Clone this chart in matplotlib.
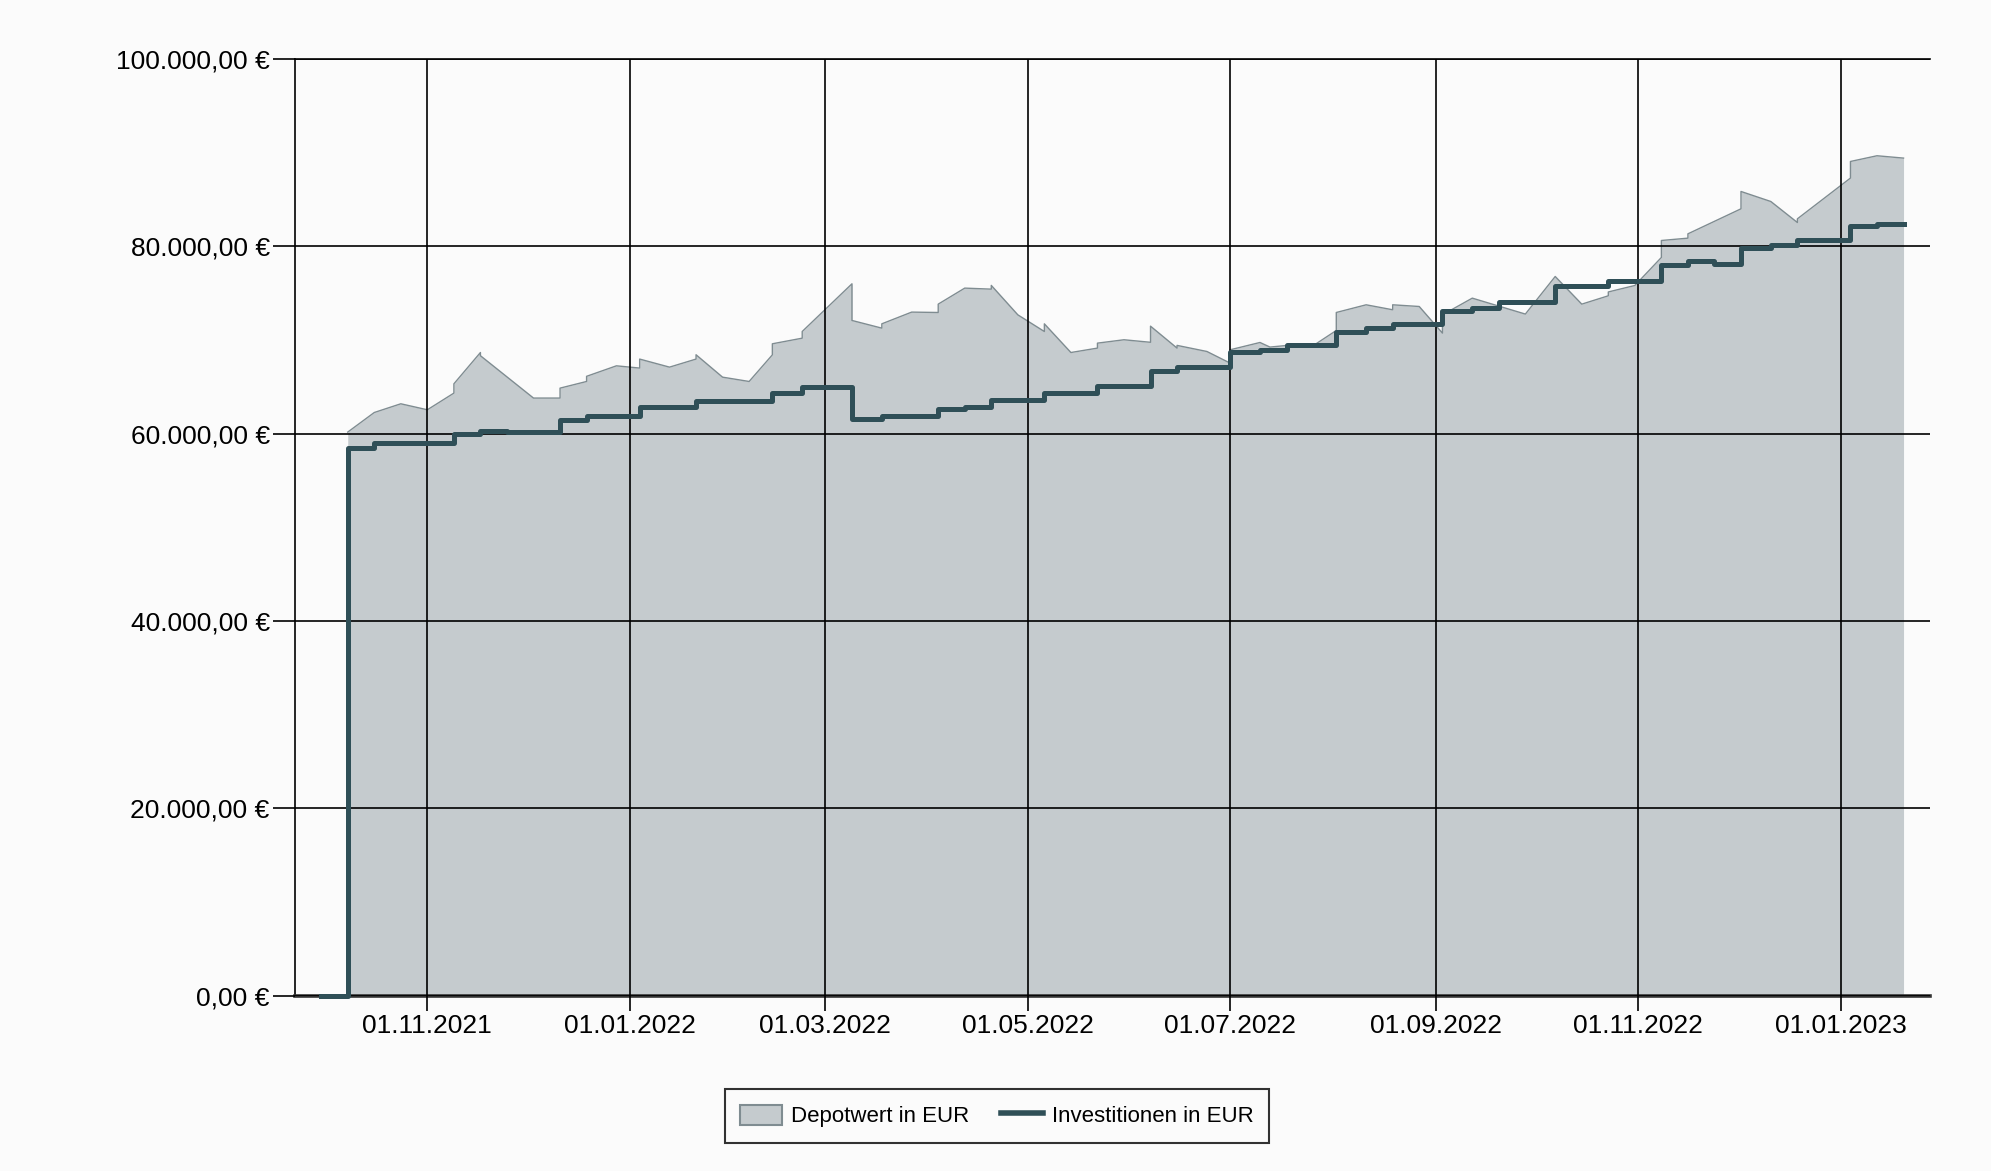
import matplotlib
matplotlib.use('Agg')
import matplotlib.pyplot as plt
import matplotlib.dates as mdates
from matplotlib.patches import Patch
from matplotlib.lines import Line2D
import pandas as pd

# Depotwert (portfolio value), repeated dates mark jumps on the same day
depot_dates = [
    '2021-10-08', '2021-10-16', '2021-10-24', '2021-11-01', '2021-11-09', '2021-11-09',
    '2021-11-17', '2021-11-17', '2021-12-03', '2021-12-11', '2021-12-11', '2021-12-19',
    '2021-12-19', '2021-12-28', '2022-01-04', '2022-01-04', '2022-01-13', '2022-01-21',
    '2022-01-21', '2022-01-29', '2022-02-06', '2022-02-13', '2022-02-13', '2022-02-22',
    '2022-02-22', '2022-03-09', '2022-03-09', '2022-03-18', '2022-03-18', '2022-03-27',
    '2022-04-04', '2022-04-04', '2022-04-12', '2022-04-20', '2022-04-20', '2022-04-28',
    '2022-05-06', '2022-05-06', '2022-05-14', '2022-05-22', '2022-05-22', '2022-05-30',
    '2022-06-07', '2022-06-07', '2022-06-15', '2022-06-15', '2022-06-24', '2022-07-01',
    '2022-07-01', '2022-07-10', '2022-07-13', '2022-07-18', '2022-07-26', '2022-08-02',
    '2022-08-02', '2022-08-11', '2022-08-19', '2022-08-19', '2022-08-27', '2022-09-03',
    '2022-09-03', '2022-09-12', '2022-09-28', '2022-10-07', '2022-10-15', '2022-10-23',
    '2022-10-23', '2022-10-31', '2022-11-08', '2022-11-08', '2022-11-16', '2022-11-16',
    '2022-12-02', '2022-12-02', '2022-12-11', '2022-12-19', '2022-12-19', '2023-01-04',
    '2023-01-04', '2023-01-12', '2023-01-20',
]
depot_values = [
    60150, 62240, 63170, 62530, 64310, 65300,
    68640, 68300, 63780, 63780, 64840, 65550,
    66100, 67220, 66980, 67940, 67080, 67940,
    68400, 66010, 65550, 68390, 69570, 70170,
    70880, 75970, 72060, 71240, 71700, 72950,
    72910, 73800, 75510, 75400, 75800, 72660,
    70880, 71700, 68640, 69110, 69640, 70000,
    69730, 71450, 69110, 69400, 68750, 67510,
    68930, 69710, 69220, 69390, 69360, 70990,
    72910, 73730, 73200, 73730, 73550, 70710,
    72660, 74440, 72740, 76750, 73800, 74690,
    75100, 75790, 78780, 80590, 80840, 81300,
    83970, 85820, 84750, 82510, 82900, 87250,
    89020, 89630, 89380,
]

# Investitionen (invested amount), step function
invest_dates = [
    '2021-09-30', '2021-10-08', '2021-10-16', '2021-11-09', '2021-11-17', '2021-11-25',
    '2021-12-11', '2021-12-19', '2022-01-04', '2022-01-21', '2022-02-13', '2022-02-22',
    '2022-03-09', '2022-03-18', '2022-04-04', '2022-04-12', '2022-04-20', '2022-05-06',
    '2022-05-22', '2022-06-07', '2022-06-15', '2022-07-01', '2022-07-10', '2022-07-18',
    '2022-08-02', '2022-08-11', '2022-08-19', '2022-09-03', '2022-09-12', '2022-09-20',
    '2022-10-07', '2022-10-23', '2022-11-08', '2022-11-16', '2022-11-24', '2022-12-02',
    '2022-12-11', '2022-12-19', '2023-01-04', '2023-01-12', '2023-01-20',
]
invest_values = [
    0, 58440, 58970, 59970, 60320, 60150,
    61390, 61890, 62880, 63490, 64300, 65010,
    61530, 61920, 62630, 62800, 63600, 64370,
    65050, 66650, 67130, 68700, 68930, 69390,
    70780, 71240, 71670, 73090, 73380, 73980,
    75690, 76220, 78000, 78350, 78100, 79780,
    80130, 80670, 82090, 82300, 82300,
]

y_ticks = [0, 20000, 40000, 60000, 80000, 100000]

FILL_COLOR = '#c5cbce'
EDGE_COLOR = '#7f8c91'
LINE_COLOR = '#2f4f57'
BG = '#fbfbfb'
FONT = ['Liberation Sans Narrow', 'Liberation Sans', 'DejaVu Sans']

plt.rcParams['font.family'] = FONT

d_dates = pd.to_datetime(depot_dates)
i_dates = pd.to_datetime(invest_dates)

fig = plt.figure(figsize=(19.91, 11.71), dpi=100, facecolor=BG)
ax = fig.add_axes([0.148, 0.1495, 0.8214, 0.8005], facecolor=BG)

ax.fill_between(d_dates, 0, depot_values, color=FILL_COLOR, lw=0, zorder=1.5)
ax.plot(d_dates, depot_values, color=EDGE_COLOR, lw=1.0, zorder=1.6)
ax.step(i_dates, invest_values, where='post', color=LINE_COLOR, lw=3.6,
        zorder=4, clip_on=False)

ax.set_xlim(pd.Timestamp('2021-09-22'), pd.Timestamp('2023-01-28'))
ax.set_ylim(0, 100000)
ax.set_yticks(y_ticks)

def euro(v, pos=None):
    s = f"{v:,.2f}".replace(',', 'X').replace('.', ',').replace('X', '.')
    return s + ' €'

ax.yaxis.set_major_formatter(plt.FuncFormatter(euro))
ax.xaxis.set_major_locator(mdates.MonthLocator(bymonth=[1, 3, 5, 7, 9, 11]))
ax.xaxis.set_major_formatter(mdates.DateFormatter('%d.%m.%Y'))

# grid sits on top of the filled area, like in the original
ax.set_axisbelow(False)
ax.grid(True, color='black', lw=1.2)
ax.tick_params(axis='y', length=16, width=1.2, pad=2, labelsize=19, colors='black')
ax.tick_params(axis='x', length=11, width=1.2, pad=2, labelsize=19, colors='black')

ax.spines['right'].set_visible(False)
ax.spines['top'].set_linewidth(1.2)
ax.spines['left'].set_linewidth(1.2)
ax.spines['bottom'].set_linewidth(2.6)
ax.spines['bottom'].set_color('#333333')

handles = [
    Patch(facecolor=FILL_COLOR, edgecolor=EDGE_COLOR, lw=1.5),
    Line2D([], [], color=LINE_COLOR, lw=4),
]
leg = fig.legend(handles, ['Depotwert in EUR', 'Investitionen in EUR'],
                 loc='center', bbox_to_anchor=(0.5007, 0.047), ncol=2,
                 fontsize=16, frameon=True, fancybox=False, edgecolor='black',
                 handlelength=1.9, handleheight=1.0, columnspacing=1.4,
                 borderpad=0.7, handletextpad=0.4)
leg.get_frame().set_linewidth(1.5)
leg.get_frame().set_facecolor(BG)

fig.savefig('out.png', dpi=100, facecolor=BG)
